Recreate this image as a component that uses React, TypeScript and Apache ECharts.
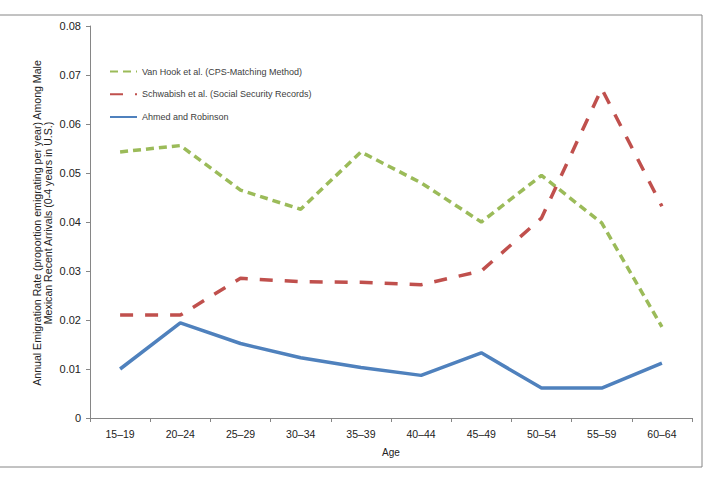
import React, { useEffect, useRef } from "react";
import * as echarts from "echarts";

const ageGroups = ["15–19", "20–24", "25–29", "30–34", "35–39", "40–44", "45–49", "50–54", "55–59", "60–64"];
const vanHook = [0.0543, 0.0556, 0.0465, 0.0426, 0.0543, 0.048, 0.04, 0.0495, 0.0398, 0.0186];
const schwabish = [0.021, 0.021, 0.0285, 0.0278, 0.0277, 0.0272, 0.03, 0.0408, 0.0672, 0.0432];
const ahmed = [0.01, 0.0194, 0.0152, 0.0123, 0.0103, 0.0087, 0.0133, 0.0061, 0.0061, 0.0112];
const seriesNames = [
  "Van Hook et al. (CPS-Matching Method)",
  "Schwabish et al. (Social Security Records)",
  "Ahmed and Robinson",
];
const yTitle = [
  "Annual Emigration Rate (proportion emigrating per year) Among Male",
  "Mexican Recent Arrivals (0-4 years in U.S.)",
];

const FONT = "Liberation Sans";
const AXIS = "#868686";

export default function App() {
  const ref = useRef<HTMLDivElement>(null);
  useEffect(() => {
    if (!ref.current) return;
    const chart = echarts.init(ref.current, undefined, { renderer: "svg" });
    chart.setOption({
      animation: false,
      backgroundColor: "#ffffff",
      textStyle: { fontFamily: FONT },
      grid: { left: 90, right: 16, top: 26, bottom: 60, containLabel: false },
      legend: {
        orient: "vertical",
        left: 104,
        top: 61,
        itemWidth: 27,
        itemHeight: 14,
        itemGap: 11.5,
        itemStyle: { opacity: 0 },
        textStyle: { fontFamily: FONT, fontSize: 9, color: "#404040" },
        data: seriesNames,
      },
      xAxis: {
        type: "category",
        data: ageGroups,
        boundaryGap: true,
        name: "Age",
        nameLocation: "middle",
        nameGap: 29,
        nameTextStyle: { fontFamily: FONT, fontSize: 10, color: "#222" },
        axisLine: { lineStyle: { color: AXIS, width: 1 } },
        axisTick: { show: true, length: 4, lineStyle: { color: AXIS } },
        axisLabel: { fontFamily: FONT, fontSize: 10.5, color: "#222", margin: 10 },
        splitLine: { show: false },
      },
      yAxis: {
        type: "value",
        min: 0,
        max: 0.08,
        interval: 0.01,
        axisLine: { show: true, lineStyle: { color: AXIS, width: 1 } },
        axisTick: { show: true, length: 4, lineStyle: { color: AXIS } },
        axisLabel: {
          fontFamily: FONT,
          fontSize: 11,
          color: "#222",
          margin: 9,
          formatter: (v: number) => (v === 0 ? "0" : v.toFixed(2)),
        },
        splitLine: { show: false },
      },
      graphic: [
        {
          type: "rect",
          shape: { x: -2, y: 15, width: 704, height: 452 },
          style: { fill: "none", stroke: AXIS, lineWidth: 1 },
          silent: true,
          z: -1,
        },
        {
          type: "text",
          x: 42.5,
          y: 223,
          rotation: Math.PI / 2,
          style: {
            text: yTitle.join("\n"),
            align: "center",
            verticalAlign: "middle",
            lineHeight: 11.5,
            fontFamily: FONT,
            fontSize: 10.6,
            fill: "#222",
          },
        },
      ],
      series: [
        {
          name: seriesNames[0],
          type: "line",
          data: vanHook,
          symbol: "none",
          lineStyle: { color: "#9BBB59", width: 3.5, type: [8, 5], cap: "butt" },
          itemStyle: { color: "#9BBB59" },
        },
        {
          name: seriesNames[1],
          type: "line",
          data: schwabish,
          symbol: "none",
          lineStyle: { color: "#C0504D", width: 3.5, type: [13, 12], cap: "butt" },
          itemStyle: { color: "#C0504D" },
        },
        {
          name: seriesNames[2],
          type: "line",
          data: ahmed,
          symbol: "none",
          lineStyle: { color: "#4F81BD", width: 3.5, type: "solid" },
          itemStyle: { color: "#4F81BD" },
        },
      ],
    });
    return () => chart.dispose();
  }, []);
  return (
    <div
      ref={ref}
      style={{ position: "fixed", left: 0, top: 0, width: 708, height: 478, background: "#fff" }}
    />
  );
}
